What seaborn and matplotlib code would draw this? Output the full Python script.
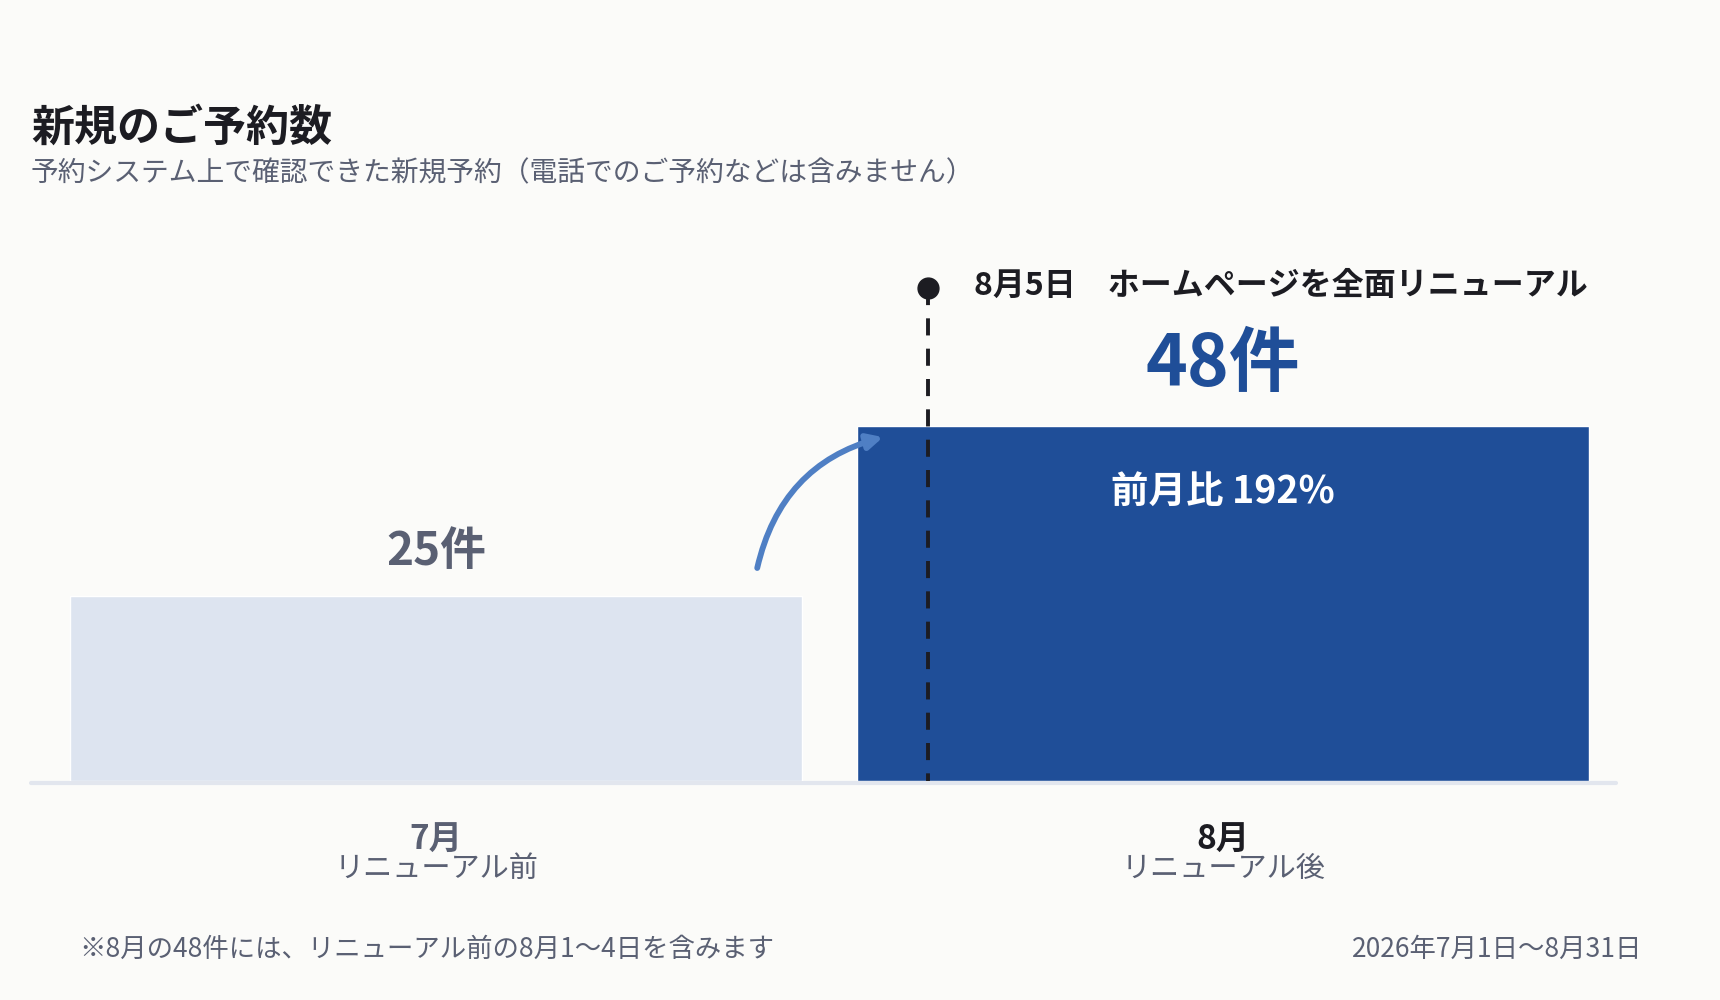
"""
Bar chart of new reservations before and after the homepage renewal.
"""

import matplotlib.pyplot as plt
import seaborn as sns

# Data
months = ['7月', '8月']
sub_labels = ['リニューアル前', 'リニューアル後']
counts = [25, 48]
value_labels = ['25件', '48件']
ratio_label = '前月比 192%'
event_label = '8月5日\u3000ホームページを全面リニューアル'
title = '新規のご予約数'
subtitle = '予約システム上で確認できた新規予約（電話でのご予約などは含みません）'
footnote = '※8月の48件には、リニューアル前の8月1〜4日を含みます'
period = '2026年7月1日〜8月31日'

# Colours
BG = '#fbfbf9'
LIGHT = '#dde4f0'
DARK = '#1f4e98'
ARROW = '#4f7fc4'
GRAY = '#5a6073'
INK = '#1c1c22'
BASE = '#e2e6ee'

sns.set_style("white")
plt.rcParams['font.family'] = ['Noto Sans CJK JP', 'DejaVu Sans']

fig = plt.figure(figsize=(17.2, 10), dpi=100, facecolor=BG)
ax = fig.add_axes([31 / 1720, 0.219, 1585 / 1720, 0.531])
ax.set_facecolor(BG)

sns.barplot(x=months, y=counts, hue=months, palette=[LIGHT, DARK],
            width=0.93, saturation=1, legend=False, ax=ax, zorder=2)

ax.set_xlim(-0.5146, 1.499)
ax.set_ylim(0, 71.8)
ax.axis('off')

# Baseline
ax.axhline(-0.25, color=BASE, lw=3, zorder=1, clip_on=False)

# Renewal marker (drawn top-down so the first dash hangs from the dot)
event_x = 0.625
ax.plot([event_x, event_x], [66.7, 0], color=INK, lw=2.8,
        dashes=(4.4, 3.4), zorder=4, clip_on=False)
ax.plot([event_x], [66.7], 'o', color=INK, ms=15, zorder=5, clip_on=False)
ax.text(0.684, 66.9, event_label, fontsize=23, fontweight='bold', color=INK,
        ha='left', va='center')

# Value labels
ax.text(0, 30.9, value_labels[0], fontsize=33, fontweight='bold', color=GRAY,
        ha='center', va='center')
ax.text(1, 56.2, value_labels[1], fontsize=51, fontweight='bold', color=DARK,
        ha='center', va='center')
ax.text(1, 39.15, ratio_label, fontsize=27, fontweight='bold', color='white',
        ha='center', va='center', zorder=6)

# Curved arrow from July to August
ax.annotate('', xy=(0.568, 46.5), xytext=(0.408, 28.8),
            arrowprops=dict(arrowstyle='-|>,head_length=0.9,head_width=0.45',
                            color=ARROW, lw=4.2,
                            connectionstyle='arc3,rad=-0.3',
                            capstyle='round', shrinkA=0, shrinkB=0),
            zorder=6)

# Category labels
month_colors = [GRAY, INK]
for i, (m, s) in enumerate(zip(months, sub_labels)):
    ax.text(i, -8.0, m, fontsize=24, fontweight='bold', color=month_colors[i],
            ha='center', va='center', clip_on=False)
    ax.text(i, -11.85, s, fontsize=21, color=GRAY,
            ha='center', va='center', clip_on=False)

# Title and notes
fig.text(31 / 1720, 0.8725, title, fontsize=31, fontweight='bold', color=INK,
         ha='left', va='center')
fig.text(31 / 1720, 0.827, subtitle, fontsize=20, color=GRAY,
         ha='left', va='center')
fig.text(79 / 1720, 0.0505, footnote, fontsize=19, color=GRAY,
         ha='left', va='center')
fig.text(1642 / 1720, 0.0505, period, fontsize=19, color=GRAY,
         ha='right', va='center')

plt.savefig('out.png', dpi=100, facecolor=BG)
plt.close()
